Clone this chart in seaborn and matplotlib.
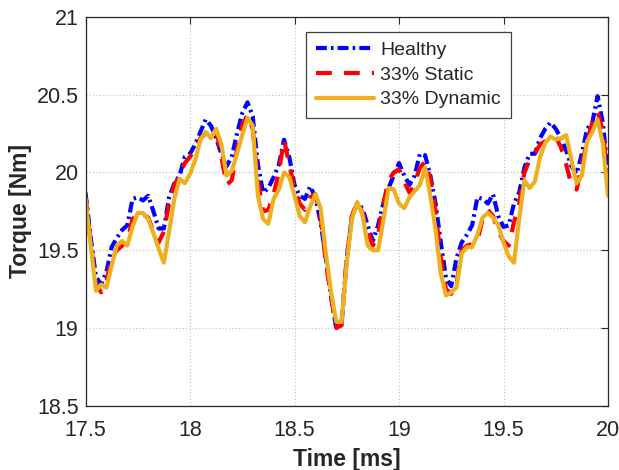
import numpy as np
import pandas as pd
import matplotlib
matplotlib.use("Agg")
import matplotlib.pyplot as plt
import seaborn as sns

# Sampling instants (ms), 0.025 ms step
time_ms = np.linspace(17.5, 20.0, 101)

healthy = [
    19.87, 19.58, 19.33, 19.28, 19.36, 19.52, 19.58, 19.63, 19.66, 19.83,
    19.84, 19.82, 19.85, 19.75, 19.64, 19.64, 19.84, 19.93, 19.98, 20.10,
    20.12, 20.18, 20.26, 20.34, 20.30, 20.22, 20.12, 20.04, 20.10, 20.25,
    20.38, 20.45, 20.36, 20.05, 19.87, 19.90, 19.97, 20.05, 20.21, 20.10,
    19.92, 19.85, 19.83, 19.91, 19.84, 19.68, 19.45, 19.20, 19.00, 19.02,
    19.45, 19.72, 19.80, 19.77, 19.66, 19.56, 19.66, 19.80, 19.90, 19.98,
    20.06, 19.98, 19.92, 19.98, 20.12, 20.11, 19.98, 19.80, 19.55, 19.32,
    19.27, 19.45, 19.55, 19.60, 19.66, 19.84, 19.83, 19.80, 19.86, 19.72,
    19.65, 19.66, 19.80, 19.87, 20.03, 20.12, 20.12, 20.22, 20.28, 20.32,
    20.28, 20.22, 20.14, 20.04, 19.99, 20.12, 20.28, 20.32, 20.49, 20.32,
    20.00,
]

static_33 = [
    19.85, 19.55, 19.28, 19.23, 19.30, 19.45, 19.50, 19.53, 19.56, 19.70,
    19.74, 19.73, 19.71, 19.62, 19.55, 19.62, 19.80, 19.92, 19.98, 20.06,
    20.10, 20.15, 20.22, 20.25, 20.25, 20.28, 20.10, 19.92, 19.95, 20.15,
    20.30, 20.37, 20.28, 19.95, 19.75, 19.76, 19.86, 20.00, 20.21, 20.05,
    19.90, 19.80, 19.76, 19.84, 19.86, 19.72, 19.42, 19.20, 19.00, 19.02,
    19.45, 19.72, 19.81, 19.74, 19.62, 19.53, 19.60, 19.80, 19.95, 20.00,
    20.02, 19.94, 19.87, 19.93, 20.03, 20.07, 19.96, 19.75, 19.45, 19.25,
    19.22, 19.28, 19.50, 19.53, 19.54, 19.56, 19.70, 19.76, 19.72, 19.62,
    19.56, 19.53, 19.68, 19.80, 20.00, 20.08, 20.12, 20.18, 20.20, 20.21,
    20.23, 20.16, 20.05, 19.92, 19.89, 20.05, 20.20, 20.32, 20.39, 20.27,
    19.95,
]

dynamic_33 = [
    19.83, 19.53, 19.24, 19.28, 19.26, 19.40, 19.53, 19.56, 19.53, 19.65,
    19.74, 19.74, 19.70, 19.61, 19.51, 19.42, 19.62, 19.83, 19.96, 19.93,
    19.99, 20.08, 20.21, 20.26, 20.22, 20.28, 20.18, 19.98, 20.01, 20.12,
    20.24, 20.35, 20.30, 19.85, 19.70, 19.67, 19.83, 19.89, 20.00, 19.97,
    19.85, 19.72, 19.68, 19.78, 19.86, 19.77, 19.48, 19.23, 19.04, 19.04,
    19.42, 19.70, 19.81, 19.73, 19.53, 19.50, 19.50, 19.69, 19.90, 19.89,
    19.80, 19.77, 19.84, 19.88, 19.92, 20.03, 19.85, 19.63, 19.35, 19.21,
    19.23, 19.26, 19.48, 19.52, 19.52, 19.60, 19.71, 19.74, 19.71, 19.66,
    19.55, 19.46, 19.42, 19.70, 19.95, 19.90, 19.94, 20.10, 20.19, 20.23,
    20.21, 20.22, 20.24, 20.08, 19.93, 19.98, 20.20, 20.26, 20.34, 20.19,
    19.85,
]

series_names = ["Healthy", "33% Static", "33% Dynamic"]
x_ticks = [17.5, 18, 18.5, 19, 19.5, 20]
x_tick_labels = ["17.5", "18", "18.5", "19", "19.5", "20"]
y_ticks = [18.5, 19, 19.5, 20, 20.5, 21]
y_tick_labels = ["18.5", "19", "19.5", "20", "20.5", "21"]

df = pd.DataFrame({
    "Time": np.concatenate([time_ms] * 3),
    "Torque": np.concatenate([healthy, static_33, dynamic_33]),
    "Case": np.repeat(series_names, len(time_ms)),
})

sns.set_theme(style="white")
plt.rcParams["font.family"] = ["Liberation Sans", "DejaVu Sans"]

fig = plt.figure(figsize=(6.19, 4.70), dpi=100)
ax = fig.add_axes([85.5 / 619, 1 - 406 / 470, (608 - 85.5) / 619, (406 - 16.7) / 470])

colors = {"Healthy": "#0000FF", "33% Static": "#FF0000", "33% Dynamic": "#EDB120"}
styles = {
    "Healthy": (0, (2.6, 1.0, 0.6, 1.0)),
    "33% Static": (0, (3.8, 2.9)),
    "33% Dynamic": "-",
}

for name in series_names:
    sub = df[df["Case"] == name]
    sns.lineplot(data=sub, x="Time", y="Torque", ax=ax, color=colors[name],
                 linewidth=3.0, label=name, estimator=None, sort=False)
    line = ax.get_lines()[-1]
    line.set_linestyle(styles[name])
    line.set_dash_capstyle("butt")
    line.set_solid_joinstyle("round")

ax.set_xlim(17.5, 20)
ax.set_ylim(18.5, 21)
ax.set_xticks(x_ticks)
ax.set_xticklabels(x_tick_labels)
ax.set_yticks(y_ticks)
ax.set_yticklabels(y_tick_labels)

ax.grid(True, color="#c8c8c8", linestyle=":", linewidth=0.9)
ax.set_axisbelow(True)
for side in ["left", "right", "top", "bottom"]:
    ax.spines[side].set_visible(True)
    ax.spines[side].set_color("#262626")
    ax.spines[side].set_linewidth(0.9)
ax.tick_params(direction="in", length=5, width=0.8, top=True, right=True,
               labelsize=15.5, colors="#262626")
ax.tick_params(axis="x", pad=10)
ax.tick_params(axis="y", pad=5)
for lbl in ax.get_xticklabels() + ax.get_yticklabels():
    lbl.set_color("#262626")

ax.set_xlabel("Time [ms]", fontsize=16.5, fontweight="bold", color="#262626", labelpad=5)
ax.set_ylabel("Torque [Nm]", fontsize=16.5, fontweight="bold", color="#262626", labelpad=3)

leg = ax.legend(loc="upper left", bbox_to_anchor=(0.4226, 0.961), borderaxespad=0,
                fontsize=14, handlelength=3.0, handletextpad=0.3, labelspacing=0.36,
                borderpad=0.5, frameon=True, fancybox=False, framealpha=1)
leg.get_frame().set_edgecolor("#404040")
leg.get_frame().set_linewidth(0.9)

fig.savefig("out.png", dpi=100)
